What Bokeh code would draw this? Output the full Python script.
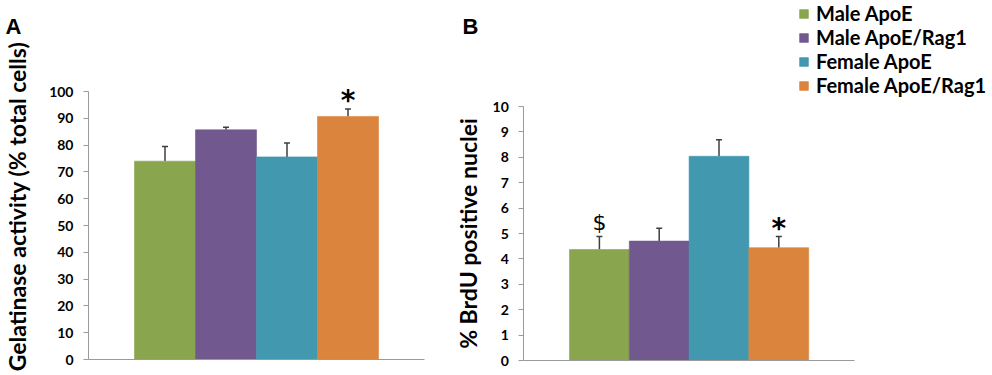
import math
from bokeh.plotting import figure
from bokeh.models import (ColumnDataSource, Whisker, TeeHead, Legend, LegendItem,
                          Label, Range1d, FixedTicker, LinearAxis)
from bokeh.embed import file_html
from bokeh.resources import INLINE
from bokeh.core.properties import value

# ---------------- data ----------------
groups = ["Male ApoE", "Male ApoE/Rag1", "Female ApoE", "Female ApoE/Rag1"]
colors = ["#89A54E", "#71588F", "#4198AF", "#DB843D"]

gel_mean = [74.0, 85.7, 75.6, 90.7]
gel_err = [5.5, 1.0, 5.2, 2.8]
gel_marks = ["", "", "", "*"]
gel_ticks = [0, 10, 20, 30, 40, 50, 60, 70, 80, 90, 100]

brdu_mean = [4.37, 4.70, 8.04, 4.44]
brdu_err = [0.51, 0.51, 0.65, 0.44]
brdu_marks = ["$", "", "", "*"]
brdu_ticks = [0, 1, 2, 3, 4, 5, 6, 7, 8, 9, 10]

# ---------------- layout (pixels on the canvas) ----------------
W, H = 990, 372
FONT = "Lato"
AXIS_GRAY = "#9A9A9A"
ERR_COLOR = "#3F3F3F"

# panel geometry: (first bar left edge px, bar width px, zero line px, px per unit, gap px)
GEO_A = dict(bar_left=134.0, bar_w=61.0, zero=359.0, unit=2.68, gap=46.0)
GEO_B = dict(bar_left=569.0, bar_w=59.8, zero=360.0, unit=25.4, gap=45.7)


def x_range_for(g):
    start = 0.5 - g["bar_left"] / g["bar_w"]
    return Range1d(start, start + W / g["bar_w"])


def y_range_for(g):
    end = g["zero"] / g["unit"]
    return Range1d(end - H / g["unit"], end)


p = figure(width=W, height=H, output_backend="svg", toolbar_location=None,
           x_range=x_range_for(GEO_A), y_range=y_range_for(GEO_A),
           x_axis_type=None, y_axis_type=None, min_border=0)
p.extra_x_ranges = {"b": x_range_for(GEO_B)}
p.extra_y_ranges = {"b": y_range_for(GEO_B)}
p.outline_line_color = None
p.grid.visible = False


def add_panel(means, errs, marks, ticks, g, rn):
    xs = list(range(1, len(groups) + 1))
    err_top = [m + e for m, e in zip(means, errs)]
    # marks sit ~14.5 px above the error cap (asterisk glyph drawn high in its em box)
    corr = {"*": -6.5, "$": 0.0, "": 0.0}
    mark_y = [t + (14.5 + corr[m]) / g["unit"] for t, m in zip(err_top, marks)]
    mark_size = ["28px" if m == "*" else "22px" for m in marks]
    mark_style = ["bold" if m == "*" else "normal" for m in marks]
    src = ColumnDataSource(dict(x=xs, top=means, err_top=err_top, color=colors,
                                group=groups, mark=marks, mark_y=mark_y,
                                mark_size=mark_size, mark_style=mark_style))
    kw = {} if rn is None else dict(x_range_name=rn, y_range_name=rn)
    bars = p.vbar(x="x", top="top", bottom=0, width=1.0, fill_color="color",
                  line_color="color", line_alpha=0.6, source=src, **kw)
    wh = Whisker(base="x", lower="top", upper="err_top", source=src,
                 line_color=ERR_COLOR, line_width=1.5,
                 upper_head=TeeHead(size=6, line_color=ERR_COLOR, line_width=1.5),
                 lower_head=None, **kw)
    p.add_layout(wh)
    p.text(x="x", y="mark_y", text="mark", source=src, text_align="center",
           text_baseline="middle", text_font=value("DejaVu Sans"),
           text_font_size="mark_size", text_font_style="mark_style",
           text_color="black", **kw)

    n = len(groups)
    x_lo = 0.5 - g["gap"] / g["bar_w"]
    x_hi = n + 0.5 + g["gap"] / g["bar_w"]

    ya = LinearAxis(fixed_location=x_lo, ticker=FixedTicker(ticks=ticks),
                    bounds=(ticks[0], ticks[-1]), **kw)
    ya.axis_line_color = AXIS_GRAY
    ya.major_tick_line_color = AXIS_GRAY
    ya.major_tick_out = 5
    ya.major_tick_in = 0
    ya.minor_tick_line_color = None
    ya.major_label_text_font = FONT
    ya.major_label_text_font_style = "bold"
    ya.major_label_text_font_size = "14px"
    ya.major_label_text_color = "black"
    ya.major_label_standoff = 10
    p.add_layout(ya, "left")

    xa = LinearAxis(fixed_location=0, ticker=FixedTicker(ticks=[]), bounds=(x_lo, x_hi), **kw)
    xa.axis_line_color = AXIS_GRAY
    xa.major_tick_line_color = None
    xa.minor_tick_line_color = None
    xa.major_label_text_font_size = "0px"
    p.add_layout(xa, "below")
    return bars


barsA = add_panel(gel_mean, gel_err, gel_marks, gel_ticks, GEO_A, None)
barsB = add_panel(brdu_mean, brdu_err, brdu_marks, brdu_ticks, GEO_B, "b")


def screen_label(text, px, py, size, font, style="bold", angle=0.0, align="left",
                 baseline="alphabetic"):
    p.add_layout(Label(x=px, y=H - py, x_units="screen", y_units="screen", text=text,
                       text_font=font, text_font_style=style, text_font_size=size,
                       text_color="black", angle=angle, text_align=align,
                       text_baseline=baseline))


# axis titles (rotated) and panel letters
screen_label("Gelatinase activity (% total cells)", 16, 206, "23px", FONT,
             angle=math.pi / 2, align="center", baseline="middle")
screen_label("% BrdU positive nuclei", 467, 233, "23px", FONT,
             angle=math.pi / 2, align="center", baseline="middle")
screen_label("A", 5, 26, "22px", "Liberation Sans")
screen_label("B", 462, 26, "22px", "Liberation Sans")

legend = Legend(items=[LegendItem(label=gname, renderers=[barsB], index=i)
                       for i, gname in enumerate(groups)],
                location=(798, H - 97), orientation="vertical",
                background_fill_alpha=0, border_line_color=None,
                padding=0, margin=0, spacing=0,
                glyph_width=11, glyph_height=11, label_standoff=7, label_height=20,
                label_text_font=FONT, label_text_font_style="bold",
                label_text_font_size="20px", label_text_color="black")
p.add_layout(legend)

open("out.html", "w").write(file_html(p, INLINE))
